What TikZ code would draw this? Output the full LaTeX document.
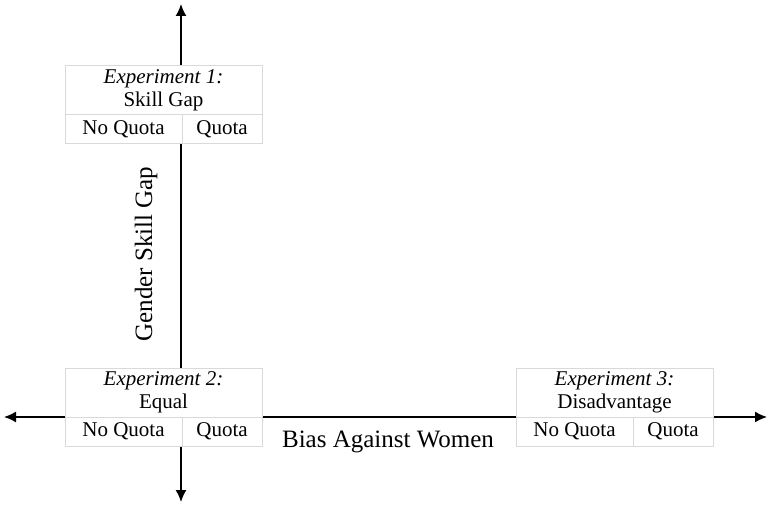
\documentclass[tikz,border=0pt]{standalone}
\usepackage{fontspec}
\setmainfont{Liberation Serif}
\usetikzlibrary{arrows.meta,positioning}

\begin{document}
\begin{tikzpicture}[x=1pt, y=1pt, >={Latex[length=12pt,width=11pt]},
    axis/.style={line width=1.5pt, <->},
    title/.style={draw=gray!30, fill=white, line width=1pt, outer sep=0pt, inner sep=0pt, minimum width=197pt, minimum height=49pt, align=center, font=\fontsize{21}{23}\selectfont},
    cell/.style={draw=gray!30, fill=white, line width=1pt, outer sep=0pt, inner sep=0pt, minimum height=29pt, font=\fontsize{21}{23}\selectfont},
    lab/.style={font=\fontsize{25}{27}\selectfont}]
  \useasboundingbox (0,0) rectangle (768,504);
  % axes
  \coordinate (left) at (4,87);
  \coordinate (right) at (767,87);
  \coordinate (top) at (181,500);
  \coordinate (bottom) at (181,2);
  \draw[axis] (left) -- (right);
  \draw[axis] (bottom) -- (top);
  \node[lab, rotate=90] (ylab) at (146,250) {Gender Skill Gap};
  \node[lab] (xlab) at (388,62) {Bias Against Women};
  % experiment 1
  \node[title] (exp1) at (163.5,413.5) {\textit{Experiment 1:}\\Skill Gap};
  \node[cell, minimum width=117pt, below right=0pt and 0pt of exp1.south west] (nq1) {No Quota};
  \node[cell, minimum width=80pt, right=0pt of nq1] (q1) {Quota};
  % experiment 2
  \node[title] (exp2) at (163.5,111.5) {\textit{Experiment 2:}\\Equal};
  \node[cell, minimum width=117pt, below right=0pt and 0pt of exp2.south west] (nq2) {No Quota};
  \node[cell, minimum width=80pt, right=0pt of nq2] (q2) {Quota};
  % experiment 3
  \node[title] (exp3) at (614.5,111.5) {\textit{Experiment 3:}\\Disadvantage};
  \node[cell, minimum width=117pt, below right=0pt and 0pt of exp3.south west] (nq3) {No Quota};
  \node[cell, minimum width=80pt, right=0pt of nq3] (q3) {Quota};
\end{tikzpicture}
\end{document}
